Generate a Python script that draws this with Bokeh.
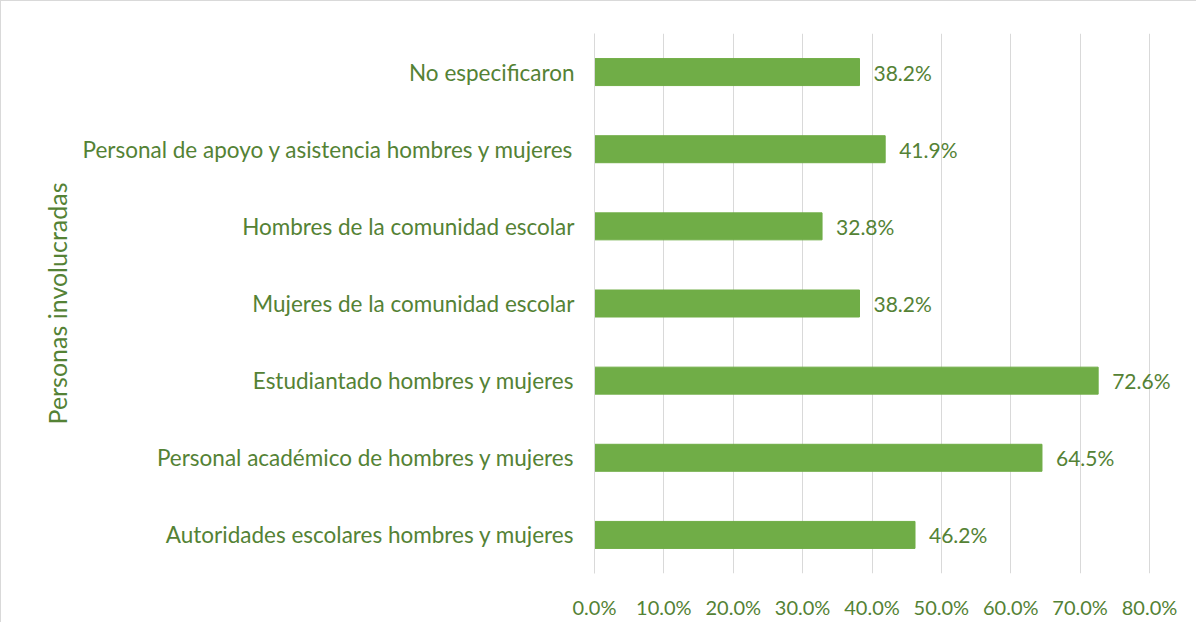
from bokeh.plotting import figure
from bokeh.models import ColumnDataSource, FactorRange, Range1d, FixedTicker, NumeralTickFormatter, LabelSet
from bokeh.core.properties import value
from bokeh.embed import file_html
from bokeh.resources import INLINE

categories = [
    "Autoridades escolares hombres y mujeres",
    "Personal académico de hombres y mujeres",
    "Estudiantado hombres y mujeres",
    "Mujeres de la comunidad escolar",
    "Hombres de la comunidad escolar",
    "Personal de apoyo y asistencia hombres y mujeres",
    "No especificaron",
]
values_pct = [46.2, 64.5, 72.6, 38.2, 32.8, 41.9, 38.2]
x_ticks = [0.0, 0.1, 0.2, 0.3, 0.4, 0.5, 0.6, 0.7, 0.8]

GREEN = "#70AD47"
TEXT = "#548235"
FONT = "Lato"

W, H = 1196, 622
LEFT, RIGHT, TOP, BOTTOM = 593, 5, 32, 50
frame_w = W - LEFT - RIGHT
x_end = 0.8 * frame_w / 555.0  # 0-80% spans ~555px in the reference

vals = [v / 100 for v in values_pct]
src = ColumnDataSource(dict(
    cat=categories,
    val=vals,
    lab=[f"{v:.1f}%" for v in values_pct],
))

p = figure(
    width=W, height=H,
    y_range=FactorRange(*categories, range_padding=0),
    x_range=Range1d(0, x_end),
    output_backend="svg", toolbar_location=None,
    min_border_left=LEFT, min_border_right=RIGHT,
    min_border_top=TOP, min_border_bottom=BOTTOM,
)
p.styles = {"border-left": "1px solid #d9d9d9", "border-top": "1px solid #d9d9d9", "box-sizing": "border-box"}
p.outline_line_color = None

p.hbar(y="cat", right="val", left=0, height=0.35, source=src,
       fill_color=GREEN, line_color=GREEN)

labels = LabelSet(x="val", y="cat", text="lab", source=src, x_offset=14,
                  text_align="left", text_baseline="middle",
                  text_color=TEXT, text_font=value(FONT), text_font_size="21px")
p.add_layout(labels)

p.xaxis.ticker = FixedTicker(ticks=x_ticks)
p.xaxis.formatter = NumeralTickFormatter(format="0.0%")
p.xaxis.axis_line_color = None
p.xaxis.major_tick_line_color = None
p.xaxis.minor_tick_line_color = None
p.xaxis.major_label_text_color = TEXT
p.xaxis.major_label_text_font = FONT
p.xaxis.major_label_text_font_size = "20px"
p.xaxis.major_label_standoff = 15

p.yaxis.axis_line_color = "#d9d9d9"
p.yaxis.major_tick_line_color = None
p.yaxis.minor_tick_line_color = None
p.yaxis.major_label_text_color = TEXT
p.yaxis.major_label_text_font = FONT
p.yaxis.major_label_text_font_size = "22.5px"
p.yaxis.major_label_standoff = 14
p.yaxis.axis_label = "Personas involucradas"
p.yaxis.axis_label_text_color = TEXT
p.yaxis.axis_label_text_font = FONT
p.yaxis.axis_label_text_font_size = "25px"
p.yaxis.axis_label_text_font_style = "normal"
p.yaxis.axis_label_standoff = 8

p.xgrid.grid_line_color = "#d9d9d9"
p.ygrid.grid_line_color = None

open("out.html", "w").write(file_html(p, INLINE))
